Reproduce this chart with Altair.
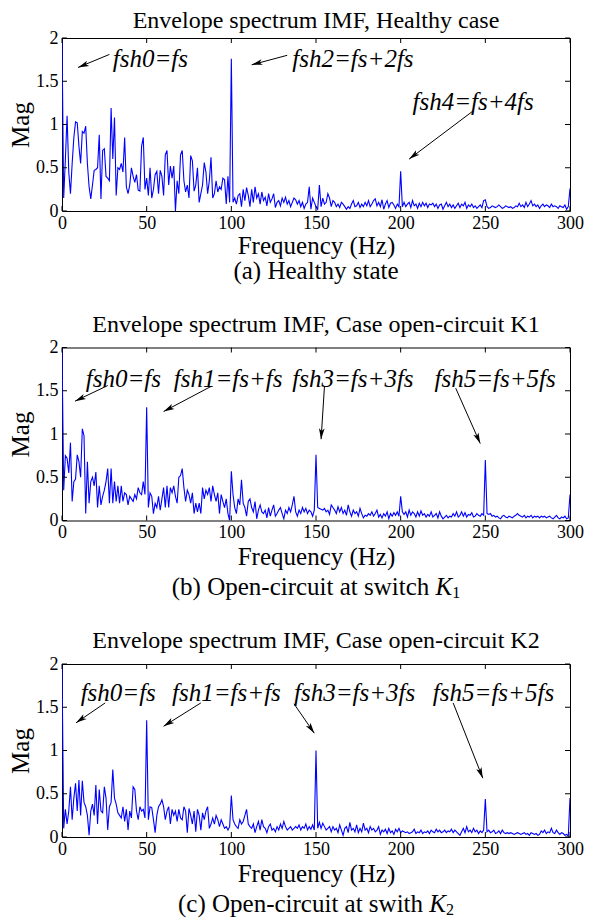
import math
import altair as alt
import pandas as pd

# ---------------- data ----------------
freq = list(range(0, 301))

mag_healthy = [
    2.0, 0.15, 0.6, 1.1, 0.45, 0.2, 0.55, 0.85, 1.03, 1.02,
    0.75, 0.55, 0.92, 0.9, 0.98, 0.55, 0.28, 0.14, 0.3, 0.47,
    0.48, 0.5, 0.88, 0.14, 0.7, 0.72, 0.4, 0.38, 0.35, 1.19,
    0.6, 1.08, 0.18, 0.5, 0.48, 0.55, 0.45, 0.85, 0.28, 0.2,
    0.3, 0.5, 0.4, 0.33, 0.42, 0.24, 0.23, 0.75, 0.85, 0.25,
    0.38, 0.18, 0.5, 0.15, 0.25, 0.42, 0.46, 0.2, 0.47, 0.4,
    0.18, 0.65, 0.7, 0.3, 0.52, 0.38, 0.52, 0.0, 0.35, 0.2,
    0.65, 0.7, 0.35, 0.22, 0.3, 0.15, 0.64, 0.58, 0.23, 0.3,
    0.5, 0.1, 0.2, 0.3, 0.56, 0.45, 0.2, 0.35, 0.62, 0.15,
    0.2, 0.35, 0.22, 0.28, 0.25, 0.38, 0.36, 0.08, 0.4, 0.1,
    1.76, 0.1, 0.15, 0.08, 0.18, 0.2, 0.05, 0.25, 0.12, 0.27,
    0.18, 0.05, 0.25, 0.1, 0.28, 0.15, 0.2, 0.08, 0.22, 0.12,
    0.16, 0.06, 0.2, 0.1, 0.14, 0.2, 0.04, 0.1, 0.12, 0.06,
    0.15, 0.1, 0.16, 0.08, 0.12, 0.05, 0.1, 0.15, 0.13, 0.08,
    0.12, 0.05, 0.1, 0.03, 0.08, 0.1, 0.28, 0.02, 0.15, 0.1,
    0.05, 0.02, 0.3, 0.05, 0.15, 0.08, 0.1, 0.2, 0.15, 0.05,
    0.12, 0.1, 0.05, 0.08, 0.04, 0.1, 0.08, 0.05, 0.02, 0.05,
    0.03, 0.08, 0.12, 0.05, 0.06, 0.1, 0.04, 0.08, 0.05, 0.1,
    0.06, 0.12, 0.05, 0.08, 0.12, 0.14, 0.06, 0.1, 0.05, 0.13,
    0.02, 0.08, 0.12, 0.04, 0.09, 0.1, 0.07, 0.03, 0.08, 0.05,
    0.46, 0.05, 0.1, 0.05, 0.08, 0.1, 0.04, 0.12, 0.06, 0.08,
    0.03, 0.09, 0.05, 0.1, 0.06, 0.09, 0.04, 0.08, 0.07, 0.09,
    0.05, 0.08, 0.03, 0.07, 0.08, 0.02, 0.06, 0.1, 0.05, 0.08,
    0.04, 0.07, 0.03, 0.06, 0.09, 0.04, 0.08, 0.06, 0.1, 0.03,
    0.07, 0.05, 0.08, 0.04, 0.06, 0.03, 0.05, 0.07, 0.04, 0.12,
    0.13, 0.05, 0.03, 0.04, 0.06, 0.05, 0.04, 0.05, 0.07, 0.05,
    0.03, 0.04, 0.06, 0.05, 0.04, 0.05, 0.03, 0.04, 0.06, 0.05,
    0.09, 0.05, 0.07, 0.04, 0.1, 0.05, 0.08, 0.12, 0.06, 0.08,
    0.05, 0.07, 0.03, 0.06, 0.08, 0.05, 0.07, 0.06, 0.04, 0.08,
    0.05, 0.06, 0.05, 0.03, 0.06, 0.05, 0.04, 0.07, 0.02, 0.05,
    0.26,
]

mag_k1 = [
    2.0, 0.35, 0.75, 0.72, 0.55, 0.9, 0.22, 0.45, 0.48, 0.76,
    0.68, 0.5, 1.06, 0.98, 0.08, 0.68, 0.2, 0.45, 0.5, 0.4,
    0.56, 0.15, 0.4, 0.18, 0.28, 0.35, 0.45, 0.6, 0.2, 0.6,
    0.2, 0.45, 0.22, 0.4, 0.2, 0.4, 0.22, 0.32, 0.3, 0.18,
    0.28, 0.25, 0.22, 0.3, 0.25, 0.38, 0.32, 0.3, 0.45, 0.3,
    1.31, 0.15, 0.32, 0.28, 0.08, 0.2, 0.15, 0.28, 0.12, 0.25,
    0.38, 0.15, 0.4, 0.15, 0.38, 0.32, 0.4, 0.28, 0.2, 0.5,
    0.52, 0.6, 0.38, 0.22, 0.35, 0.3, 0.2, 0.32, 0.08, 0.2,
    0.1, 0.2, 0.08, 0.38, 0.25, 0.35, 0.3, 0.38, 0.22, 0.4,
    0.3, 0.22, 0.32, 0.08, 0.3, 0.22, 0.15, 0.25, 0.08, 0.0,
    0.57, 0.3, 0.15, 0.08, 0.25, 0.18, 0.47, 0.2, 0.15, 0.05,
    0.22, 0.25, 0.15, 0.1, 0.22, 0.02, 0.12, 0.18, 0.1, 0.08,
    0.12, 0.03, 0.15, 0.05, 0.12, 0.18, 0.05, 0.08, 0.12, 0.15,
    0.08, 0.02, 0.12, 0.08, 0.15, 0.1, 0.18, 0.28, 0.1, 0.05,
    0.12, 0.08, 0.15, 0.1, 0.14, 0.08, 0.12, 0.1, 0.05, 0.12,
    0.76, 0.15, 0.14, 0.13, 0.12, 0.14, 0.1, 0.12, 0.07, 0.18,
    0.15, 0.12, 0.08, 0.16, 0.1, 0.15, 0.08, 0.12, 0.06, 0.18,
    0.1, 0.05, 0.12, 0.08, 0.1, 0.05, 0.14, 0.08, 0.03, 0.06,
    0.05, 0.08, 0.06, 0.1, 0.05, 0.08, 0.12, 0.04, 0.07, 0.03,
    0.08, 0.05, 0.1, 0.02, 0.08, 0.05, 0.09, 0.06, 0.1, 0.05,
    0.28, 0.1, 0.07, 0.1, 0.04, 0.12, 0.06, 0.1, 0.08, 0.04,
    0.1, 0.05, 0.11, 0.06, 0.08, 0.04, 0.07, 0.05, 0.1, 0.04,
    0.06, 0.08, 0.03, 0.1, 0.05, 0.02, 0.04, 0.06, 0.03, 0.05,
    0.04, 0.08, 0.05, 0.1, 0.04, 0.06, 0.1, 0.05, 0.09, 0.04,
    0.07, 0.06, 0.09, 0.04, 0.05, 0.08, 0.06, 0.05, 0.08, 0.06,
    0.7, 0.08, 0.07, 0.08, 0.05, 0.06, 0.04, 0.05, 0.03, 0.02,
    0.05, 0.06, 0.04, 0.03, 0.05, 0.04, 0.03, 0.05, 0.06, 0.08,
    0.06, 0.05, 0.04, 0.06, 0.03, 0.05, 0.04, 0.06, 0.03, 0.05,
    0.04, 0.05, 0.03, 0.05, 0.04, 0.05, 0.03, 0.04, 0.05, 0.03,
    0.02, 0.04, 0.06, 0.03, 0.02, 0.04, 0.03, 0.05, 0.02, 0.03,
    0.3,
]

mag_k2 = [
    2.0, 0.1, 0.32, 0.15, 0.3, 0.58, 0.2, 0.45, 0.62, 0.3,
    0.66, 0.25, 0.65, 0.4, 0.35, 0.25, 0.02, 0.3, 0.38, 0.25,
    0.6, 0.15, 0.55, 0.3, 0.28, 0.58, 0.45, 0.08, 0.35, 0.4,
    0.78, 0.45, 0.38, 0.28, 0.25, 0.22, 0.35, 0.18, 0.32, 0.08,
    0.3, 0.22, 0.58, 0.55, 0.3, 0.2, 0.35, 0.3, 0.32, 0.22,
    1.35, 0.2, 0.35, 0.34, 0.2, 0.05, 0.25, 0.35, 0.38, 0.43,
    0.35, 0.2, 0.3, 0.35, 0.15, 0.32, 0.25, 0.3, 0.18, 0.32,
    0.22, 0.2, 0.35, 0.3, 0.05, 0.33, 0.25, 0.15, 0.3, 0.06,
    0.32, 0.25, 0.08, 0.28, 0.2, 0.3, 0.35, 0.1, 0.15, 0.22,
    0.15, 0.25, 0.2, 0.12, 0.2, 0.15, 0.1, 0.12, 0.08, 0.12,
    0.48, 0.2, 0.15, 0.12, 0.1, 0.2, 0.15, 0.18, 0.25, 0.32,
    0.15, 0.12, 0.1, 0.15, 0.05, 0.12, 0.18, 0.08, 0.2, 0.12,
    0.1, 0.05, 0.12, 0.15, 0.08, 0.1, 0.06, 0.12, 0.08, 0.15,
    0.1, 0.18, 0.12, 0.08, 0.1, 0.12, 0.08, 0.1, 0.12, 0.1,
    0.14, 0.08, 0.12, 0.1, 0.15, 0.08, 0.12, 0.09, 0.14, 0.08,
    1.0, 0.1, 0.17, 0.1, 0.16, 0.12, 0.08, 0.1, 0.12, 0.06,
    0.12, 0.08, 0.1, 0.05, 0.14, 0.08, 0.02, 0.1, 0.12, 0.05,
    0.17, 0.08, 0.1, 0.06, 0.14, 0.05, 0.1, 0.06, 0.16, 0.08,
    0.1, 0.05, 0.12, 0.08, 0.1, 0.06, 0.08, 0.12, 0.03, 0.08,
    0.06, 0.09, 0.04, 0.1, 0.05, 0.07, 0.03, 0.09, 0.06, 0.1,
    0.05, 0.07, 0.06, 0.05, 0.06, 0.04, 0.05, 0.06, 0.09, 0.04,
    0.06, 0.05, 0.08, 0.04, 0.06, 0.05, 0.07, 0.04, 0.08, 0.06,
    0.05, 0.09, 0.06, 0.08, 0.05, 0.06, 0.08, 0.05, 0.07, 0.06,
    0.09, 0.05, 0.08, 0.06, 0.04, 0.02, 0.06, 0.1, 0.05, 0.12,
    0.06, 0.08, 0.05, 0.1, 0.06, 0.08, 0.04, 0.07, 0.05, 0.08,
    0.44, 0.06, 0.08, 0.05, 0.06, 0.08, 0.04, 0.05, 0.07, 0.04,
    0.08, 0.05, 0.04, 0.05, 0.04, 0.05, 0.04, 0.03, 0.04, 0.05,
    0.04, 0.03, 0.04, 0.05, 0.03, 0.04, 0.02, 0.05, 0.04, 0.03,
    0.04, 0.02, 0.03, 0.07, 0.05, 0.08, 0.04, 0.06, 0.05, 0.1,
    0.05, 0.04, 0.08, 0.05, 0.03, 0.05, 0.04, 0.02, 0.03, 0.01,
    0.45,
]

panel_titles = [
    "Envelope spectrum IMF, Healthy case",
    "Envelope spectrum IMF, Case open-circuit K1",
    "Envelope spectrum IMF, Case open-circuit K2",
]
caption_main = ["(a) Healthy state", "(b) Open-circuit at switch ", "(c) Open-circuit at swith "]
caption_k = ["", "K", "K"]
caption_sub = ["", "1", "2"]

x_ticks = [0, 50, 100, 150, 200, 250, 300]
y_ticks = [0, 0.5, 1, 1.5, 2]

# annotations: label, text anchor (left, middle), arrow tail, arrow head
ann1_labels = ["fsh0=fs", "fsh2=fs+2fs", "fsh4=fs+4fs"]
ann1_text_x = [30, 136, 207]
ann1_text_y = [1.76, 1.76, 1.26]
ann1_tail_x = [28, 133, 243]
ann1_tail_y = [1.81, 1.80, 1.16]
ann1_head_x = [9.5, 112, 205]
ann1_head_y = [1.66, 1.69, 0.60]

ann2_labels = ["fsh0=fs", "fsh1=fs+fs", "fsh3=fs+3fs", "fsh5=fs+5fs"]
ann2_text_x = [14, 66, 136, 220]
ann2_text_y = [1.64, 1.64, 1.64, 1.64]
ann2_tail_x = [27, 88, 155, 232.5]
ann2_tail_y = [1.56, 1.55, 1.55, 1.53]
ann2_head_x = [7.7, 60, 153, 247]
ann2_head_y = [1.38, 1.26, 0.94, 0.89]

ann3_labels = ["fsh0=fs", "fsh1=fs+fs", "fsh3=fs+3fs", "fsh5=fs+5fs"]
ann3_text_x = [11, 65, 137, 219]
ann3_text_y = [1.66, 1.66, 1.66, 1.66]
ann3_tail_x = [25.5, 82, 137, 231]
ann3_tail_y = [1.55, 1.55, 1.54, 1.55]
ann3_head_x = [8.3, 60, 149, 248.5]
ann3_head_y = [1.32, 1.28, 1.20, 0.68]

# ---------------- layout / style ----------------
W, H = 508, 173
FONT = "Liberation Serif"
ARROW = "M0,0L0.5,1.9L0,1.45L-0.5,1.9Z"
CAP_SIZE = 25
TITLE_SIZE = 24

# approximate Times advance widths (per 1000 em) for caption layout
TW = {"(": 333, ")": 333, " ": 250, "a": 444, "b": 500, "c": 444, "e": 444, "h": 500,
      "i": 278, "l": 278, "n": 500, "p": 500, "r": 333, "s": 389, "t": 278, "u": 500,
      "w": 722, "y": 500, "H": 722, "O": 722, "-": 333}


def text_width(s, size):
    return sum(TW.get(ch, 500) for ch in s) * size / 1000.0


def x_enc(title_pad=0):
    return alt.X(
        "f:Q",
        scale=alt.Scale(domain=[0, 300], nice=False, zero=False),
        axis=alt.Axis(values=x_ticks, format="d", title="Frequency (Hz)",
                      labelFlush=False, labelPadding=3, titlePadding=title_pad),
    )


def y_enc():
    return alt.Y(
        "m:Q",
        scale=alt.Scale(domain=[0, 2], nice=False),
        axis=alt.Axis(values=y_ticks, format="~g", title="Mag",
                      labelFlush=False, labelPadding=4, titlePadding=2),
    )


def caption_layers(i, cap_y):
    main, k, sub = caption_main[i], caption_k[i], caption_sub[i]
    w_main = text_width(main, CAP_SIZE)
    w_k = 0.667 * CAP_SIZE if k else 0
    w_sub = 0.5 * 16 if sub else 0
    x0 = W / 2 - (w_main + w_k + w_sub) / 2
    layers = [
        alt.Chart(pd.DataFrame({"t": [main]})).mark_text(
            align="left", baseline="middle", font=FONT, fontSize=CAP_SIZE, color="black"
        ).encode(x=alt.value(x0), y=alt.value(cap_y), text="t:N")
    ]
    if k:
        layers.append(
            alt.Chart(pd.DataFrame({"t": [k]})).mark_text(
                align="left", baseline="middle", font=FONT, fontSize=CAP_SIZE,
                fontStyle="italic", color="black"
            ).encode(x=alt.value(x0 + w_main), y=alt.value(cap_y), text="t:N")
        )
        layers.append(
            alt.Chart(pd.DataFrame({"t": [sub]})).mark_text(
                align="left", baseline="middle", font=FONT, fontSize=16, color="black"
            ).encode(x=alt.value(x0 + w_main + w_k), y=alt.value(cap_y + 6), text="t:N")
        )
    return layers


def panel(i, mags, labels, tx, ty, ax, ay, hx, hy, title_dy, xtitle_pad, cap_dy):
    df = pd.DataFrame({"f": freq, "m": mags})

    line = alt.Chart(df).mark_line(color="#0000ff", strokeWidth=1.1, clip=True).encode(
        x=x_enc(xtitle_pad), y=y_enc()
    )

    # inward tick marks (MATLAB style box)
    xt = pd.DataFrame({"f": x_ticks})
    yt = pd.DataFrame({"m": y_ticks})
    tick_b = alt.Chart(xt).mark_rule(color="black", strokeWidth=1).encode(
        x=x_enc(xtitle_pad), y=alt.value(H), y2=alt.value(H - 5))
    tick_t = alt.Chart(xt).mark_rule(color="black", strokeWidth=1).encode(
        x=x_enc(xtitle_pad), y=alt.value(0), y2=alt.value(5))
    tick_l = alt.Chart(yt).mark_rule(color="black", strokeWidth=1).encode(
        y=y_enc(), x=alt.value(0), x2=alt.value(5))
    tick_r = alt.Chart(yt).mark_rule(color="black", strokeWidth=1).encode(
        y=y_enc(), x=alt.value(W - 5), x2=alt.value(W))

    # arrows
    angles = []
    for a_x, a_y, h_x, h_y in zip(ax, ay, hx, hy):
        dxp = (h_x - a_x) * W / 300.0
        dyp = -(h_y - a_y) * H / 2.0
        angles.append(math.degrees(math.atan2(dxp, -dyp)) % 360)
    arr = pd.DataFrame({"f": ax, "m": ay, "f2": hx, "m2": hy})
    heads = pd.DataFrame({"f": hx, "m": hy, "ang": angles})
    txt = pd.DataFrame({"f": tx, "m": ty, "label": labels})

    shafts = alt.Chart(arr).mark_rule(color="black", strokeWidth=1).encode(
        x=x_enc(xtitle_pad), y=y_enc(), x2="f2:Q", y2="m2:Q")
    heads_m = alt.Chart(heads).mark_point(
        shape=ARROW, filled=True, color="black", size=130, opacity=1, strokeWidth=0
    ).encode(x=x_enc(xtitle_pad), y=y_enc(), angle=alt.Angle("ang:Q", scale=None))
    texts = alt.Chart(txt).mark_text(
        align="left", baseline="middle", font=FONT, fontStyle="italic",
        fontSize=25, color="black"
    ).encode(x=x_enc(xtitle_pad), y=y_enc(), text="label:N")

    title = alt.Chart(pd.DataFrame({"t": [panel_titles[i]]})).mark_text(
        align="center", baseline="middle", font=FONT, fontSize=TITLE_SIZE, color="black"
    ).encode(x=alt.value(W / 2), y=alt.value(-title_dy), text="t:N")

    layers = [line, tick_b, tick_t, tick_l, tick_r, shafts, heads_m, texts, title]
    layers += caption_layers(i, H + cap_dy)

    return alt.layer(*layers).properties(width=W, height=H)


p1 = panel(0, mag_healthy, ann1_labels, ann1_text_x, ann1_text_y,
           ann1_tail_x, ann1_tail_y, ann1_head_x, ann1_head_y, 17, 1, 60)
p2 = panel(1, mag_k1, ann2_labels, ann2_text_x, ann2_text_y,
           ann2_tail_x, ann2_tail_y, ann2_head_x, ann2_head_y, 23, 3, 66)
p3 = panel(2, mag_k2, ann3_labels, ann3_text_x, ann3_text_y,
           ann3_tail_x, ann3_tail_y, ann3_head_x, ann3_head_y, 23, 3, 67)

chart = alt.vconcat(p1, p2, p3, spacing=26.5).properties(
    padding={"left": 0, "top": 0, "right": 0, "bottom": 0}
).configure(background="white").configure_view(
    stroke="black", strokeWidth=1
).configure_axis(
    domain=False, grid=False, ticks=False,
    labelFont=FONT, labelFontSize=18, labelColor="black",
    titleFont=FONT, titleFontSize=25, titleFontWeight="normal", titleColor="black",
)

chart.save("out.html", embed_options={"renderer": "svg", "actions": False})
